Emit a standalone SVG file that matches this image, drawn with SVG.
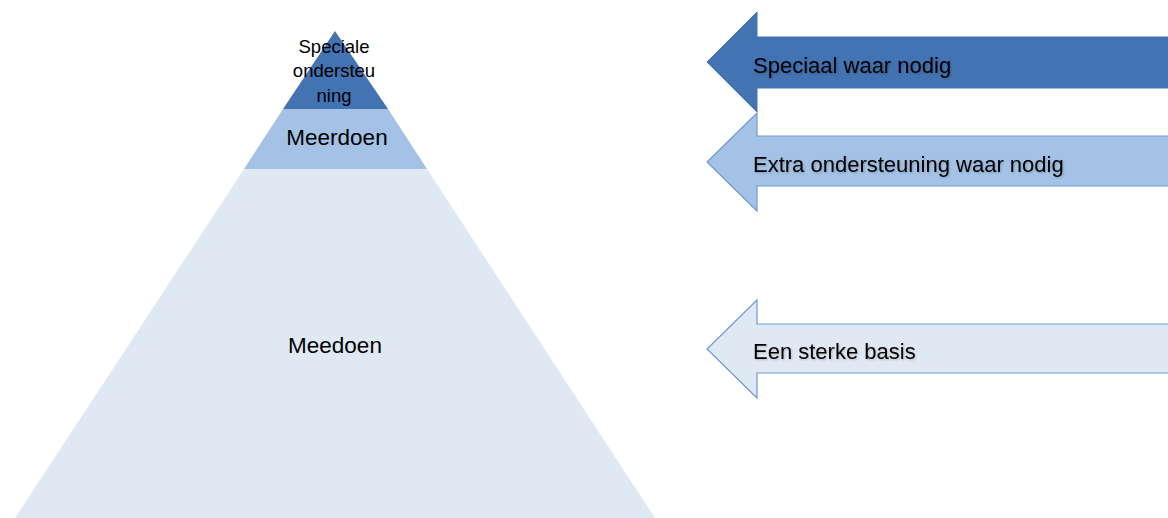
<svg xmlns="http://www.w3.org/2000/svg" width="1168" height="518" viewBox="0 0 1168 518">
<style>
.t{font-family:"Liberation Sans",Arial,sans-serif;fill:#000}
.pt{text-anchor:middle}
.at{font-size:22px}
</style>
<defs>
<filter id="sh" x="-5%" y="-20%" width="110%" height="150%">
<feGaussianBlur in="SourceAlpha" stdDeviation="0.8"/>
<feOffset dx="0.8" dy="1.2" result="b"/>
<feComponentTransfer><feFuncA type="linear" slope="0.22"/></feComponentTransfer>
<feMerge><feMergeNode/><feMergeNode in="SourceGraphic"/></feMerge>
</filter>
</defs>
<rect width="1168" height="518" fill="#fff"/>
<g id="pyramid-base">
<polygon points="244,169 427,169 655,518 15,518" fill="#DFE9F4"/>
<text class="t pt" x="335" y="353" font-size="22.5">Meedoen</text>
</g>
<g id="pyramid-middle">
<polygon points="283,109 388,109 427,169 244,169" fill="#A4C2E5"/>
<text class="t pt" x="337" y="145" font-size="22.5">Meerdoen</text>
</g>
<g id="pyramid-top">
<polygon points="335,31 388,109 283,109" fill="#4373B2"/>
<text class="t pt" font-size="18.5"><tspan x="334" y="53">Speciale</tspan><tspan x="334" y="77">ondersteu</tspan><tspan x="334" y="102">ning</tspan></text>
</g>
<g id="arrow-special">
<polygon points="1170,37 757,37 757,12 707,62 757,112 757,88 1170,88" fill="#4373B2" stroke="#4373B2" stroke-width="1"/>
<text class="t at" x="753" y="73" filter="url(#sh)">Speciaal waar nodig</text>
</g>
<g id="arrow-extra">
<polygon points="1170,136 757,136 757,113 707,162 757,211 757,186 1170,186" fill="#A4C2E5" stroke="#6D9BD3" stroke-width="1.2"/>
<text class="t at" x="753" y="172" filter="url(#sh)">Extra ondersteuning waar nodig</text>
</g>
<g id="arrow-basis">
<polygon points="1170,324 757,324 757,300 707,349 757,398 757,373 1170,373" fill="#DFE9F4" stroke="#6D9BD3" stroke-width="1.2"/>
<text class="t at" x="753" y="359" filter="url(#sh)">Een sterke basis</text>
</g>
<g id="connectors"></g>
</svg>
